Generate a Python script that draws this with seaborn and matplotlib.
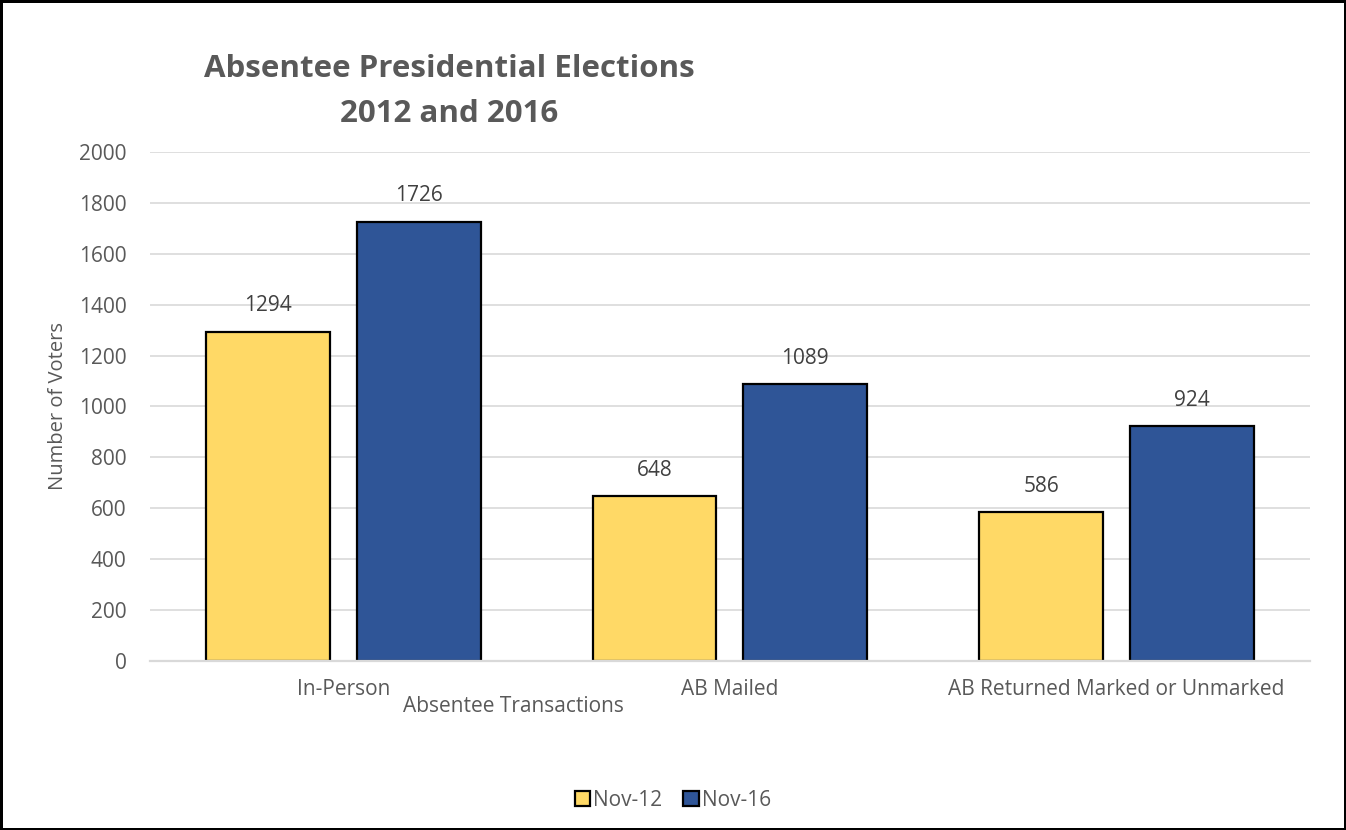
import matplotlib
matplotlib.use("Agg")
import matplotlib.pyplot as plt
import seaborn as sns
import pandas as pd

categories = ["In-Person", "AB Mailed", "AB Returned Marked or Unmarked"]
series_names = ["Nov-12", "Nov-16"]
nov12 = [1294, 648, 586]
nov16 = [1726, 1089, 924]
yticks = [0, 200, 400, 600, 800, 1000, 1200, 1400, 1600, 1800, 2000]

df = pd.DataFrame({
    "Category": categories * 2,
    "Series": [series_names[0]] * 3 + [series_names[1]] * 3,
    "Voters": nov12 + nov16,
})

sns.set_theme(style="white")
plt.rcParams["font.family"] = ["Open Sans", "DejaVu Sans"]
TXT = "#595959"
FS = 15

fig = plt.figure(figsize=(13.46, 8.30), dpi=100, edgecolor="black", linewidth=2.5)
ax = fig.add_axes([0.1115, 0.2036, 0.8615, 0.6133])

palette = {"Nov-12": "#FFD966", "Nov-16": "#2F5597"}
sns.barplot(data=df, x="Category", y="Voters", hue="Series", order=categories,
            hue_order=series_names, palette=palette, width=0.78, gap=0.18,
            edgecolor="black", linewidth=1.6, saturation=1, ax=ax, legend=True, zorder=3)

ax.set_xlim(-0.5, 2.5)
ax.set_ylim(0, 2000)
ax.set_yticks(yticks)
ax.set_yticklabels([str(t) for t in yticks], fontsize=FS, color=TXT)
ax.tick_params(axis="y", length=0, pad=17)
ax.tick_params(axis="x", length=0, pad=13, labelsize=FS, labelcolor=TXT)
ax.yaxis.grid(True, color="#D9D9D9", linewidth=1.2, zorder=0)
ax.set_axisbelow(True)
for s in ["top", "right", "left"]:
    ax.spines[s].set_visible(False)
ax.spines["bottom"].set_color("#D9D9D9")
ax.spines["bottom"].set_linewidth(1.6)
ax.spines["bottom"].set_zorder(5)

for cont in ax.containers:
    ax.bar_label(cont, labels=[f"{int(v)}" for v in cont.datavalues], padding=11,
                 fontsize=FS, color="#404040")

ax.set_ylabel("Number of Voters", fontsize=FS - 0.5, color=TXT, labelpad=8)
ax.set_xlabel("Absentee Transactions", fontsize=FS, color=TXT)
ax.xaxis.set_label_coords(0.313, -0.068)

fig.text(0.3336, 1 - 77 / 830, "Absentee Presidential Elections", ha="center", va="baseline",
         fontsize=22.5, fontweight="bold", color=TXT)
fig.text(0.3336, 1 - 122 / 830, "2012 and 2016", ha="center", va="baseline",
         fontsize=22.5, fontweight="bold", color=TXT)

handles, labels = ax.get_legend_handles_labels()
ax.legend_.remove()
fig.legend(handles, labels, loc="center", bbox_to_anchor=(0.50, 0.036), ncol=2, frameon=False,
           fontsize=FS, labelcolor=TXT, handlelength=0.75, handleheight=0.75,
           handletextpad=0.15, columnspacing=1.0)

fig.savefig("out.png", dpi=100, edgecolor=fig.get_edgecolor())
